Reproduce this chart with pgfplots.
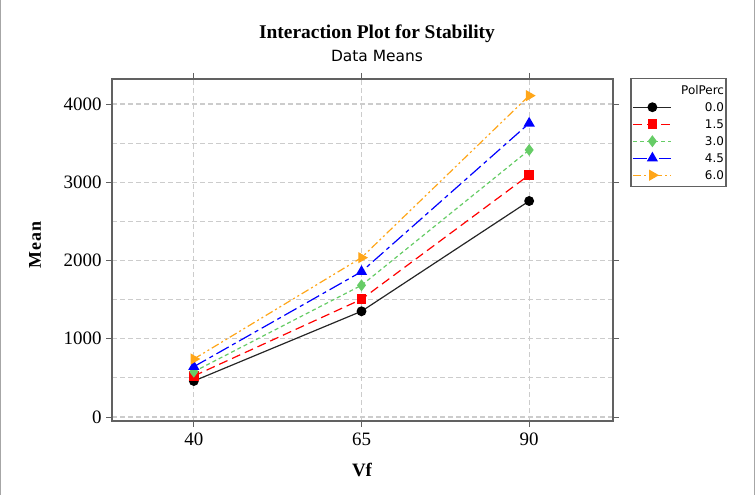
\documentclass[border=0pt]{standalone}
\usepackage{fontspec}
\setmainfont{Liberation Serif}
\newfontfamily\sansf{DejaVu Sans}
\usepackage{pgfplots}
\pgfplotsset{compat=1.18}
\definecolor{axgray}{rgb}{0.38,0.38,0.38}
\definecolor{gridgray}{rgb}{0.80,0.80,0.80}
\definecolor{mygreen}{rgb}{0.40,0.80,0.40}
\definecolor{myorange}{rgb}{1.00,0.65,0.10}
\begin{document}
\begin{tikzpicture}[x=1bp,y=1bp]
\useasboundingbox (0,0) rectangle (756,495);
\draw[gray!70, line width=1.5bp] (0.75,0) -- (0.75,495);
\draw[gray!70, line width=1.5bp] (754.5,0) -- (754.5,495);
\begin{axis}[
  at={(112bp,74bp)}, anchor=south west,
  scale only axis, width=501bp, height=342bp,
  xmin=27.8, xmax=102.5, ymin=-51, ymax=4319,
  xtick={40,65,90}, ytick={0,1000,2000,3000,4000},
  minor ytick={500,1500,2500,3500},
  grid=both,
  major grid style={gridgray, line width=1.1bp, dash pattern=on 5bp off 3bp},
  minor grid style={gridgray, line width=1.1bp, dash pattern=on 5bp off 3bp},
  axis line style={axgray, line width=1.8bp},
  tick align=outside, major tick length=6bp, minor tick length=0pt,
  tick style={axgray, line width=0.8bp},
  tick label style={font=\fontsize{19}{19}\selectfont},
  /pgf/number format/assume math mode=true,
  /pgf/number format/1000 sep={},
  xticklabel style={yshift=-2bp},
  yticklabel style={xshift=-1bp},
  legend style={at={(1.034,1.003)}, anchor=north west,
    draw=axgray, line width=1.5bp, fill=white,
    font=\sansf\fontsize{12}{12}\selectfont,
    inner xsep=2bp, inner ysep=3bp, row sep=0bp,
    nodes={text width=52bp, align=right, minimum height=17bp, inner sep=0bp, text depth=0bp}},
  legend image code/.code={\draw[mark repeat=2,mark phase=2,#1] plot coordinates {(0bp,0bp)(19bp,0bp)(38bp,0bp)};},
  legend cell align=right,
]
\addlegendimage{empty legend}
\addlegendentry{PolPerc}
\addplot[black!85, line width=1.2bp, mark=*, mark size=4.3bp, mark options={solid,fill=black,draw=black}]
  coordinates {(40,460) (65,1351) (90,2760)};
\addlegendentry{0.0}
\addplot[red, line width=1.2bp, dash pattern=on 9bp off 5bp, mark=square*, mark size=4.3bp, mark options={solid}]
  coordinates {(40,524) (65,1504) (90,3093)};
\addlegendentry{1.5}
\addplot[mygreen, line width=1.2bp, dash pattern=on 4bp off 3bp, mark=diamond*, mark size=5bp, mark options={solid}]
  coordinates {(40,579) (65,1683) (90,3412)};
\addlegendentry{3.0}
\addplot[blue, line width=1.2bp, dash pattern=on 14bp off 4bp on 4bp off 4bp, mark=triangle*, mark size=5.3bp, mark options={solid}]
  coordinates {(40,643) (65,1857) (90,3753)};
\addlegendentry{4.5}
\addplot[myorange, line width=1.2bp, dash pattern=on 8bp off 3bp on 2bp off 3bp on 2bp off 3bp, mark=triangle*, mark size=5.3bp, mark options={solid, rotate=-90}]
  coordinates {(40,741) (65,2036) (90,4106)};
\addlegendentry{6.0}
\end{axis}
\node[anchor=base, font=\bfseries\fontsize{19.5}{19.5}\selectfont] at (377,456) {Interaction Plot for Stability};
\node[anchor=base, font=\sansf\fontsize{15.5}{15.5}\selectfont] at (377,433) {Data Means};
\node[rotate=90, font=\bfseries\fontsize{18}{18}\selectfont] at (35,250) {M\kern1bp e\kern1bp a\kern1bp n};
\node[anchor=base, font=\bfseries\fontsize{19}{19}\selectfont] at (362,18) {Vf};
\end{tikzpicture}
\end{document}
